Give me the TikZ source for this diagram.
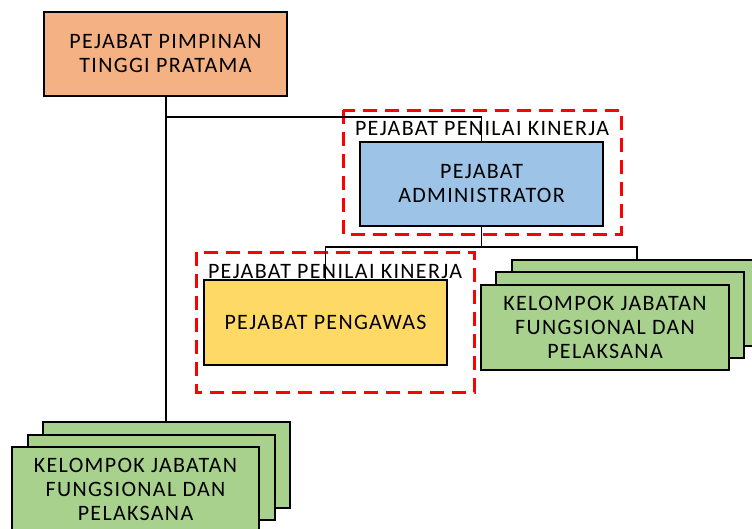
\documentclass[tikz,border=0pt]{standalone}
\usepackage{fontspec}
\setmainfont{Carlito}
\newfontfamily\orgfont[LetterSpace=6]{Carlito}
\definecolor{salmon}{HTML}{F4B183}
\definecolor{adminblue}{HTML}{9DC3E6}
\definecolor{gold}{HTML}{FFD966}
\definecolor{leaf}{HTML}{A9D18E}
\begin{document}
\begin{tikzpicture}[x=1pt,y=-1pt,
  unitbox/.style={draw=black,line width=1.6pt,anchor=north west,inner sep=0pt,outer sep=0pt,
    align=center,font=\orgfont\fontsize{22}{24}\selectfont,text=black},
  penilai/.style={draw=red,line width=3pt,dash pattern=on 14pt off 8pt},
  wire/.style={draw=black,line width=1.4pt},
  trunk/.style={draw=black,line width=2pt},
  caption/.style={font=\orgfont\fontsize{22}{24}\selectfont,text=black,inner sep=0pt}]
\useasboundingbox (0,0) rectangle (752,528);
\clip (0,0) rectangle (752,528);

% head of unit
\node[unitbox,fill=salmon,minimum width=243pt,minimum height=84pt] (top) at (44,12)
  {PEJABAT PIMPINAN\\TINGGI PRATAMA};

% appraiser frame around the administrator
\draw[penilai] (343,110) rectangle (621,234);
\node[caption] (capA) at (482,129) {PEJABAT PENILAI KINERJA};
\node[unitbox,fill=adminblue,minimum width=243pt,minimum height=84pt] (admin) at (360,142)
  {PEJABAT\\ADMINISTRATOR};

% appraiser frame around the supervisor
\draw[penilai] (196,252) rectangle (474,392);
\node[caption] (capB) at (335,272) {PEJABAT PENILAI KINERJA};
\node[unitbox,fill=gold,minimum width=243pt,minimum height=85pt] (peng) at (204,280)
  {PEJABAT PENGAWAS};

% functional staff stack under the administrator
\node[unitbox,fill=leaf,minimum width=250pt,minimum height=86pt] (rback) at (512,260) {};
\node[unitbox,fill=leaf,minimum width=248pt,minimum height=86pt] (rmid) at (496,272) {};
\node[unitbox,fill=leaf,minimum width=248pt,minimum height=85pt] (rfront) at (481,285)
  {KELOMPOK JABATAN\\FUNGSIONAL DAN\\PELAKSANA};

% functional staff stack under the head of unit
\node[unitbox,fill=leaf,minimum width=247pt,minimum height=86pt] (lback) at (43,422) {};
\node[unitbox,fill=leaf,minimum width=247pt,minimum height=85pt] (lmid) at (28,435) {};
\node[unitbox,fill=leaf,minimum width=247pt,minimum height=85pt] (lfront) at (12,447)
  {KELOMPOK JABATAN\\FUNGSIONAL DAN\\PELAKSANA};

% connectors
\coordinate (j1) at (165.5,117);
\coordinate (j2) at (481.5,247);
\draw[trunk] (top.south) -- (top.south |- lback.north);
\draw[wire] (j1) -| (admin.north);
\draw[wire] (admin.south) -- (j2);
\draw[wire] (j2) -| (peng.north);
\draw[wire] (j2) -| (rback.north);
\end{tikzpicture}
\end{document}
